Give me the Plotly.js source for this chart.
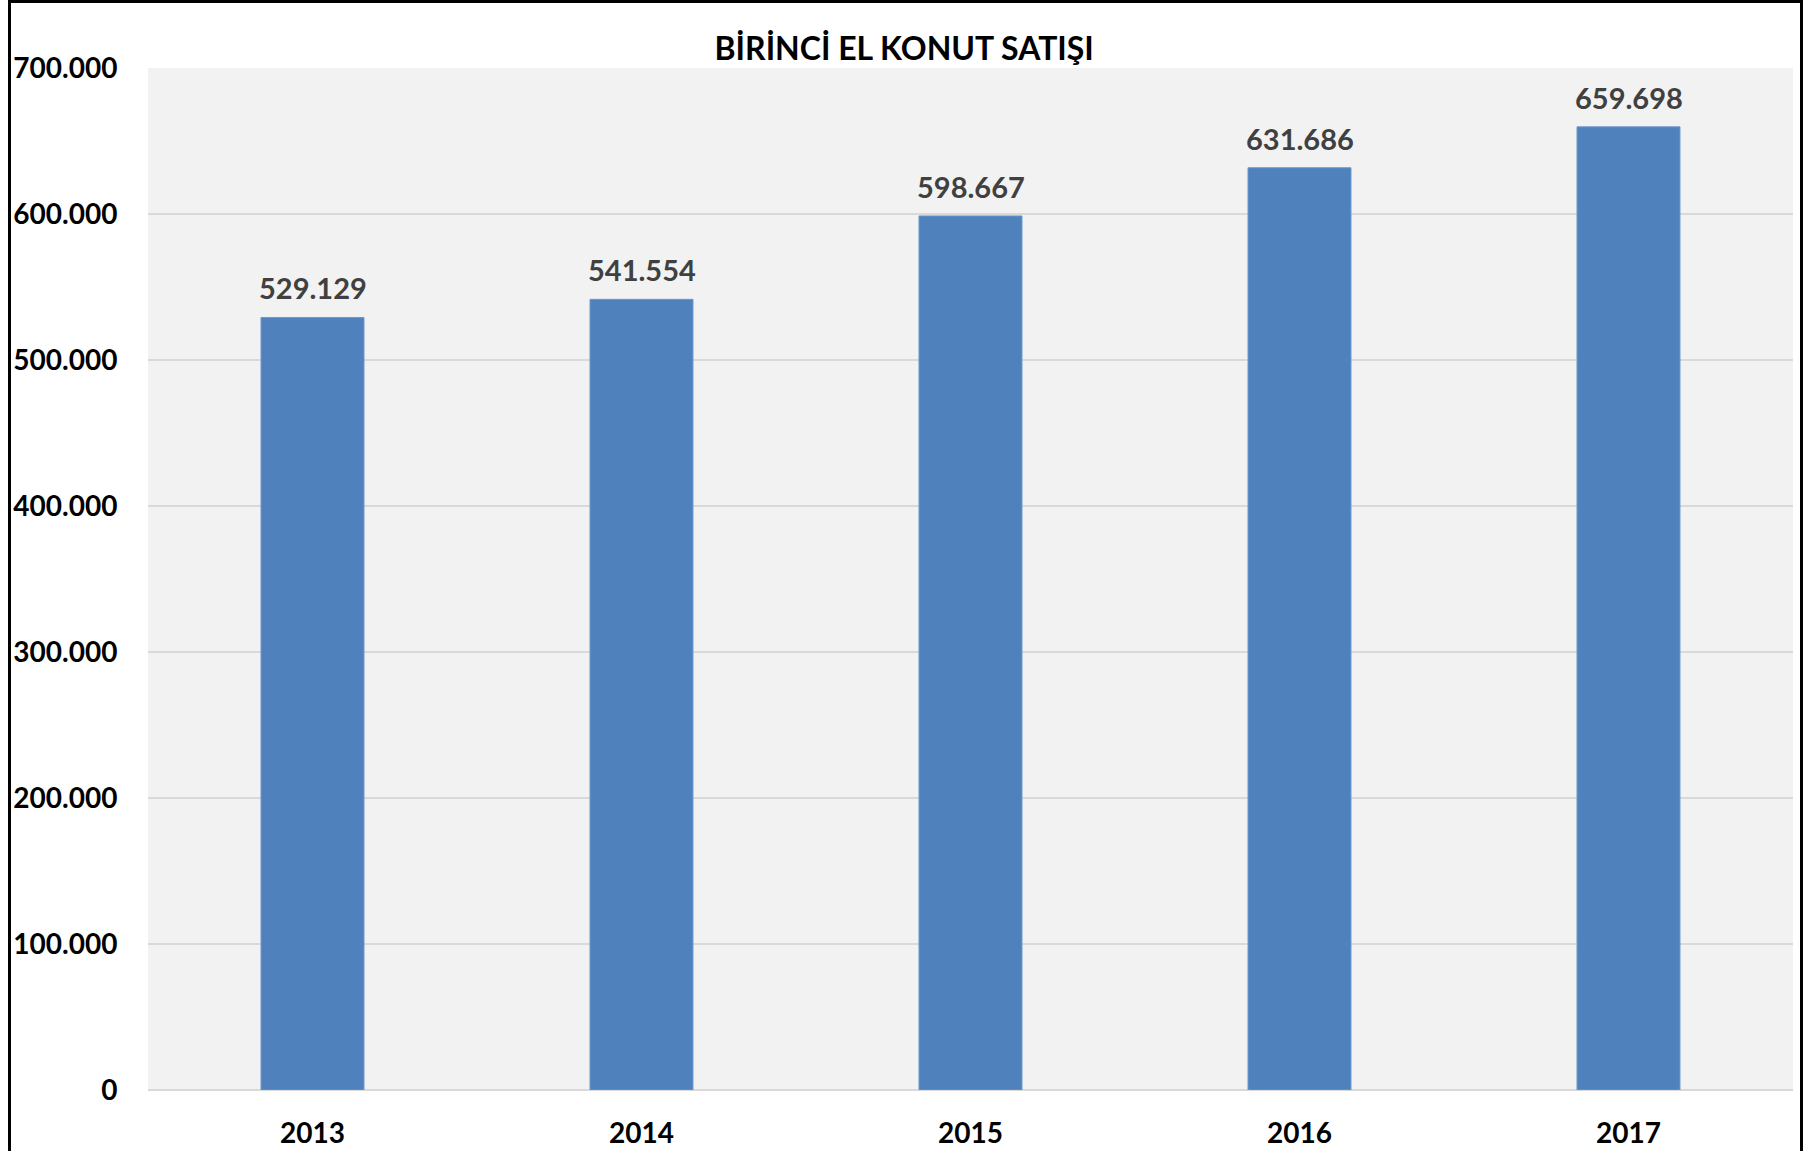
<!DOCTYPE html>
<html>
<head>
<meta charset="utf-8">
<script src="https://cdn.plot.ly/plotly-3.0.1.min.js"></script>
<style>
html, body { margin: 0; padding: 0; background: #ffffff; }
#wrap { position: relative; width: 1812px; height: 1151px; }
#chart { width: 1812px; height: 1151px; }
#frame { position: absolute; left: 8px; top: 0px; width: 1795px; height: 1160px; border: 3px solid #000; box-sizing: border-box; pointer-events: none; }
</style>
</head>
<body>
<div id="wrap">
  <div id="chart"></div>
  <div id="frame"></div>
</div>
<script>
const years = ['2013', '2014', '2015', '2016', '2017'];
const sales = [529129, 541554, 598667, 631686, 659698];
const titleText = 'BİRİNCİ EL KONUT SATIŞI';

const FONT = 'Lato, "Open Sans", "DejaVu Sans", sans-serif';

const trace = {
  type: 'bar',
  x: years,
  y: sales,
  marker: { color: '#4f81bd', line: { color: '#6d98cc', width: 1 } },
  hoverinfo: 'x+y'
};

const annotations = years.map((yr, i) => ({
  x: i,
  y: sales[i],
  xref: 'x',
  yref: 'y',
  text: sales[i].toLocaleString('de-DE'),
  showarrow: false,
  yanchor: 'bottom',
  yshift: 10,
  font: { family: FONT, size: 29, color: '#404040', weight: 'bold' }
}));

const layout = {
  width: 1812,
  height: 1151,
  margin: { l: 148, r: 19, t: 68, b: 61, pad: 0 },
  paper_bgcolor: '#ffffff',
  plot_bgcolor: '#f2f2f2',
  separators: ',.',
  bargap: 0.687,
  showlegend: false,
  title: {
    text: titleText,
    x: 0.499,
    xref: 'container',
    xanchor: 'center',
    y: 0.958,
    yref: 'container',
    yanchor: 'middle',
    font: { family: FONT, size: 32, color: '#000000', weight: 'bold' }
  },
  xaxis: {
    type: 'category',
    range: [-0.5, 4.5],
    showgrid: false,
    showline: false,
    zeroline: false,
    ticks: 'outside',
    ticklen: 18,
    tickcolor: 'rgba(0,0,0,0)',
    tickfont: { family: FONT, size: 28, color: '#000000', weight: 'bold' }
  },
  yaxis: {
    range: [0, 700000],
    dtick: 100000,
    tick0: 0,
    tickformat: ',d',
    showgrid: true,
    gridcolor: '#d9d9d9',
    gridwidth: 1.5,
    zeroline: true,
    zerolinecolor: '#d9d9d9',
    zerolinewidth: 2,
    showline: false,
    ticks: 'outside',
    ticklen: 24,
    tickcolor: 'rgba(0,0,0,0)',
    tickfont: { family: FONT, size: 28, color: '#000000', weight: 'bold' }
  },
  annotations: annotations
};

Plotly.newPlot('chart', [trace], layout, { displayModeBar: false, staticPlot: true });
</script>
</body>
</html>
